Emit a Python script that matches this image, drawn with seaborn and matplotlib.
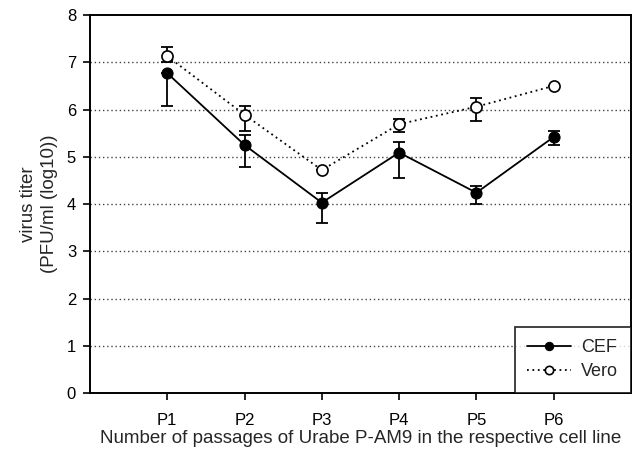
import numpy as np
import pandas as pd
import matplotlib
matplotlib.use("Agg")
import matplotlib.pyplot as plt
import seaborn as sns

passages = ["P1", "P2", "P3", "P4", "P5", "P6"]
cef_mean = [6.77, 5.25, 4.03, 5.09, 4.24, 5.42]
cef_err_low = [0.69, 0.46, 0.42, 0.54, 0.23, 0.17]
cef_err_high = [0.00, 0.21, 0.21, 0.22, 0.14, 0.13]
vero_mean = [7.13, 5.89, 4.72, 5.69, 6.06, 6.50]
vero_err_low = [0.13, 0.34, 0.00, 0.17, 0.30, 0.00]
vero_err_high = [0.19, 0.18, 0.00, 0.10, 0.18, 0.00]
yticks = [0, 1, 2, 3, 4, 5, 6, 7, 8]

sns.set_theme(style="ticks")
plt.rcParams["font.family"] = ["Liberation Sans", "DejaVu Sans"]

fig = plt.figure(figsize=(6.38, 4.55), dpi=100)
ax = fig.add_axes([0.141, 0.136, 0.848, 0.831])

xpos = np.arange(1, len(passages) + 1)
df = pd.DataFrame({
    "x": np.concatenate([xpos, xpos]),
    "titer": cef_mean + vero_mean,
    "line": ["CEF"] * len(passages) + ["Vero"] * len(passages),
})

for y in yticks[1:-1]:
    ax.axhline(y, color="#444444", linestyle=(0, (1, 2)), linewidth=1.0, zorder=0)

ax.errorbar(xpos, vero_mean, yerr=[vero_err_low, vero_err_high], fmt="none",
            ecolor="black", elinewidth=1.3, capsize=4.5, capthick=1.3, zorder=2)
ax.errorbar(xpos, cef_mean, yerr=[cef_err_low, cef_err_high], fmt="none",
            ecolor="black", elinewidth=1.3, capsize=4.5, capthick=1.3, zorder=2)

sns.lineplot(data=df[df.line == "Vero"], x="x", y="titer", ax=ax, color="black",
             linestyle=(0, (1, 2)), linewidth=1.3, marker="o", markersize=8,
             markerfacecolor="white", markeredgecolor="black", markeredgewidth=1.2,
             label="Vero", zorder=3)
sns.lineplot(data=df[df.line == "CEF"], x="x", y="titer", ax=ax, color="black",
             linestyle="-", linewidth=1.3, marker="o", markersize=8,
             markerfacecolor="black", markeredgecolor="black",
             label="CEF", zorder=4)

ax.set_xlim(0, 7)
ax.set_ylim(0, 8)
ax.set_xticks(xpos)
ax.set_xticklabels(passages)
ax.set_yticks(yticks)
ax.tick_params(axis="both", direction="out", length=5, width=1.2, colors="black",
               labelsize=12)
ax.tick_params(axis="x", pad=9)
ax.tick_params(axis="y", pad=5)
for s in ax.spines.values():
    s.set_visible(True)
    s.set_color("black")
    s.set_linewidth(1.4)

ax.set_xlabel("Number of passages of Urabe P-AM9 in the respective cell line",
              fontsize=13.5, labelpad=2)
ax.set_ylabel("virus titer\n(PFU/ml (log10))", fontsize=13.5, labelpad=6,
              multialignment="center", linespacing=1.3)

handles, labels = ax.get_legend_handles_labels()
order = [labels.index("CEF"), labels.index("Vero")]
leg = ax.legend([handles[i] for i in order], [labels[i] for i in order],
                loc="lower right", frameon=True, fancybox=False, fontsize=13,
                borderaxespad=0, handlelength=2.4, borderpad=0.7,
                handletextpad=0.6, labelspacing=0.4)
leg.get_frame().set_edgecolor("black")
leg.get_frame().set_linewidth(1.3)
for h in leg.legend_handles:
    h.set_markersize(6)

fig.savefig("out.png", dpi=100)
